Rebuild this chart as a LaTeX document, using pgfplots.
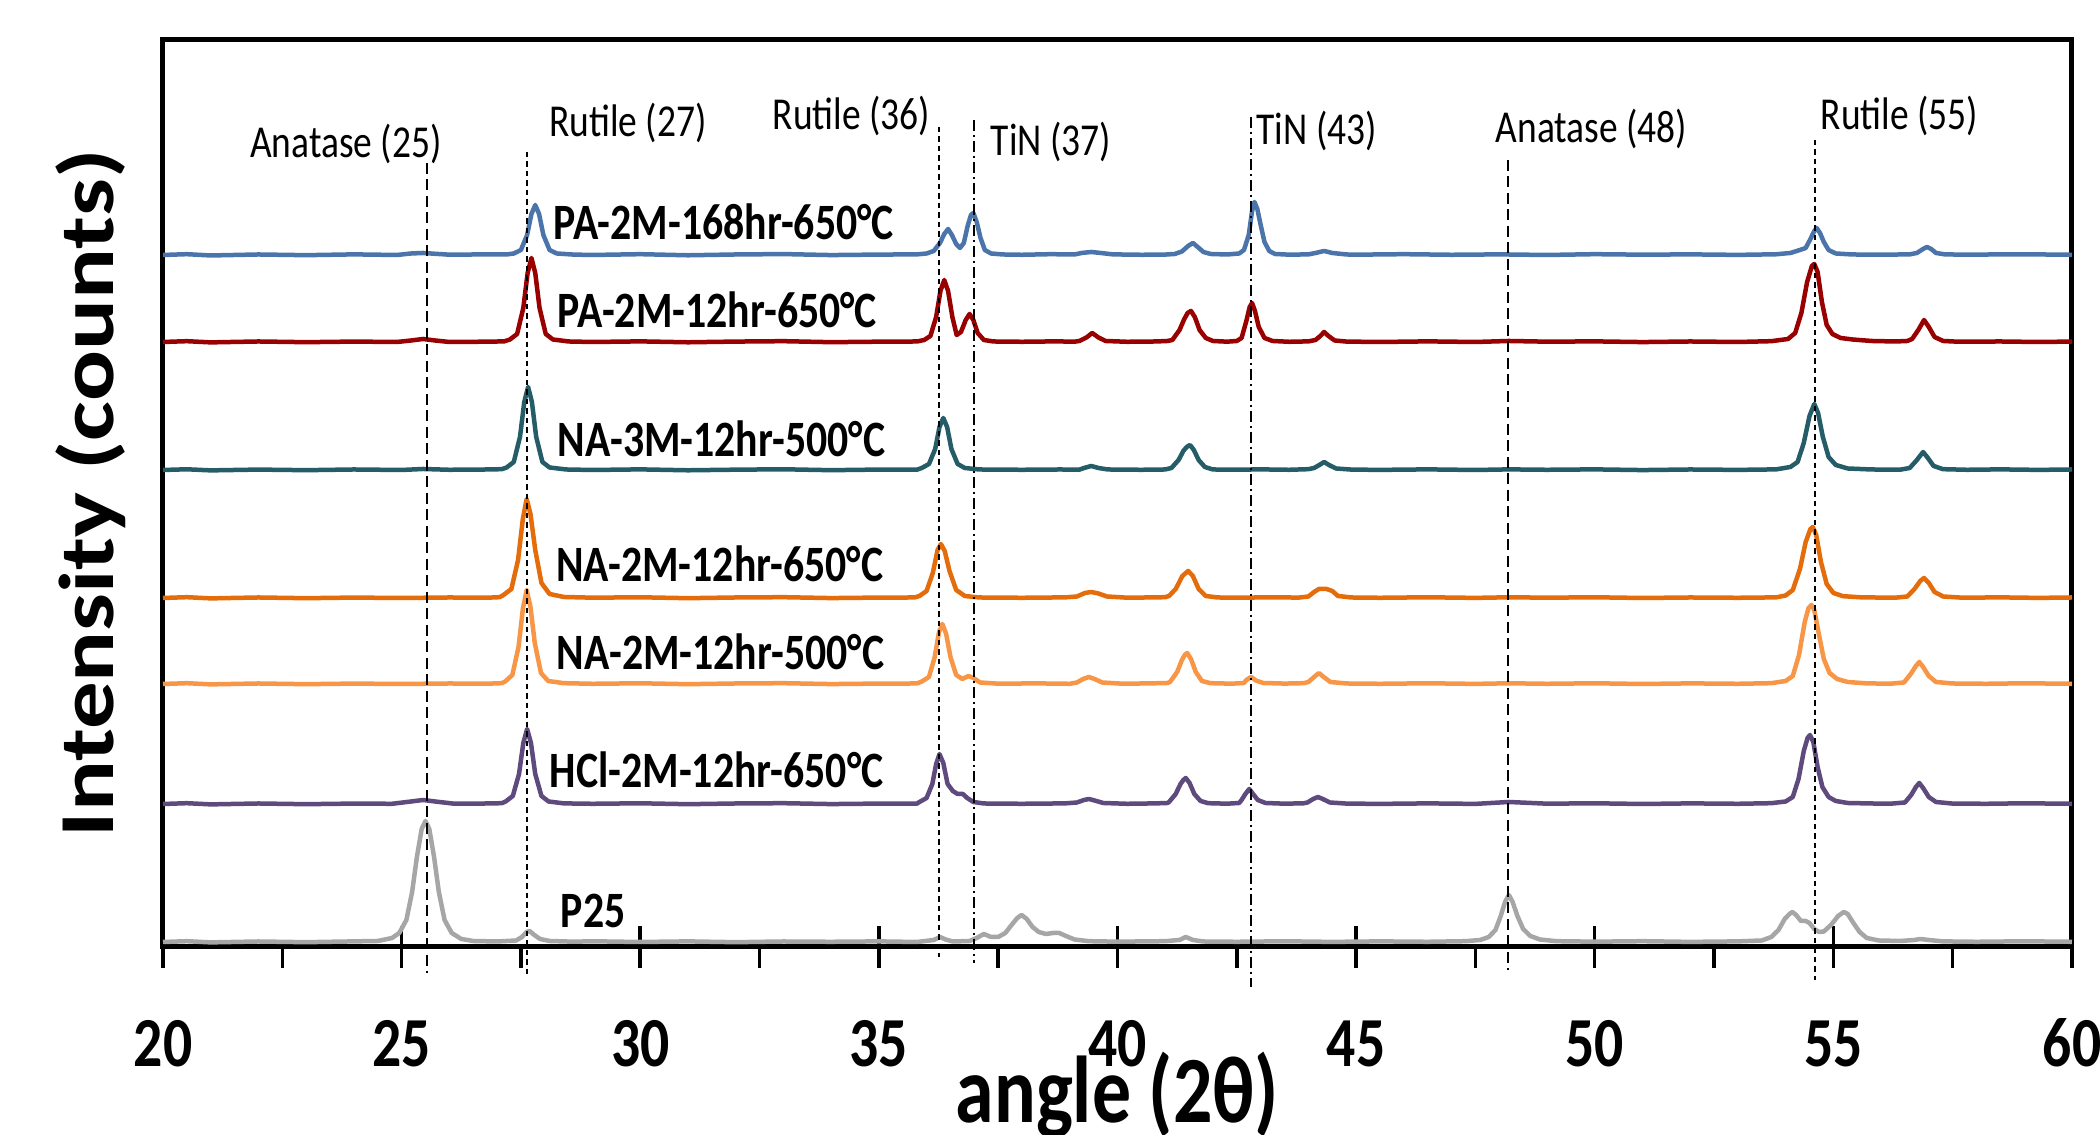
\documentclass[border=0pt]{standalone}
\usepackage{fontspec}
\setmainfont{Carlito}[FakeStretch=0.82]
\newfontfamily\plainfont{Carlito}
\usepackage{graphicx}
\usepackage{pgfplots}
\pgfplotsset{compat=1.18}

\definecolor{cBlue}{HTML}{4A74AA}
\definecolor{cRed}{HTML}{990000}
\definecolor{cTeal}{HTML}{245C68}
\definecolor{cOrange}{HTML}{E46C0A}
\definecolor{cLOrange}{HTML}{F79646}
\definecolor{cPurple}{HTML}{5E4A7C}
\definecolor{cGray}{HTML}{A6A6A6}

\newcommand{\ticklab}{\fontsize{20}{22}\selectfont\bfseries}
\newcommand{\samplab}{\fontsize{14.5}{16}\selectfont\bfseries}
\newcommand{\peaklab}{\fontsize{13}{15}\selectfont}

\begin{document}
\begin{tikzpicture}
\useasboundingbox (0,0) rectangle (210mm,113.5mm);
\begin{axis}[
    scale only axis,
    width=190.9mm, height=90.7mm,
    at={(16.3mm,18.8mm)}, anchor=south west,
    xmin=20, xmax=60, ymin=0, ymax=907,
    clip=false,
    xtick={20,25,...,60},
    minor x tick num=1,
    xtick pos=bottom,
    ytick=\empty,
    tick align=outside,
    major tick length=2.1mm,
    minor tick length=2.1mm,
    extra x ticks={25,30,35,40,45,50,55},
    extra x tick labels={},
    extra x tick style={tick align=inside},
    every tick/.style={black, line width=0.35mm},
    axis line style={black, line width=0.5mm},
    /pgf/number format/assume math mode=true,
    xticklabel style={font=\ticklab, anchor=base, yshift=-9.9mm},
    xlabel={angle (2θ)},
    xlabel style={font=\fontsize{27}{30}\selectfont\bfseries, at={(axis description cs:0.5,-0.194)}, anchor=base},
    ylabel={\scalebox{1}[0.82]{\plainfont\fontsize{27}{30}\selectfont\bfseries Intensity (counts)}},
    ylabel style={at={(axis description cs:-0.038,0.5)}, anchor=center, rotate=0},
    every axis plot/.append style={line width=0.45mm, line join=round, no marks},
]

% PA-2M-168hr-650C
\addplot[cBlue] coordinates {
(20,692) (20.5,692.8) (21,691.5) (22,692.5) (23,691.8) (24,692.6) (24.9,692) (25.2,693.5) (25.45,694) (25.7,693.2) (26,692.3) (26.8,692.6) (27.2,692.5)
(27.35,693.5) (27.5,697) (27.63,712) (27.72,733) (27.8,742) (27.88,733) (27.97,712) (28.1,697) (28.25,693.5)
(28.6,692.4) (29,692) (30,692.8) (31,691.7) (32,692.5) (33,692.9) (34,691.9) (35,692.4) (35.8,692.6)
(36.0,693.5) (36.15,696) (36.28,704) (36.37,713) (36.45,718) (36.53,712) (36.62,703) (36.7,699) (36.78,704) (36.86,721) (36.93,732) (36.98,734) (37.05,725) (37.13,709) (37.22,697) (37.35,693.5)
(37.6,692.5) (38,692.2) (38.6,692.8) (39.1,692.5)
(39.25,694) (39.45,695) (39.65,694) (39.9,692.6) (40.5,692.2) (41.0,692.4)
(41.2,693) (41.35,695.5) (41.48,701) (41.58,704) (41.68,700) (41.8,695) (41.95,693) (42.3,692.5) (42.55,693.5)
(42.65,697) (42.75,712) (42.82,736) (42.87,745) (42.93,738) (43.0,722) (43.08,705) (43.18,696) (43.3,693) (43.6,692.3) (44.0,692.6)
(44.15,694) (44.33,696) (44.5,694) (44.8,692.5) (45,692.3) (46,692.8) (47,692.2) (48,692.6) (49,692) (50,692.8) (51,692.3) (52,692.6) (53,692.1) (53.8,692.7)
(54.1,694) (54.3,697) (54.42,699) (54.52,708) (54.6,716) (54.65,719) (54.72,714) (54.8,705) (54.9,697) (55.05,693.5) (55.4,692.5) (56,692.3) (56.6,692.6)
(56.75,694) (56.88,698) (56.96,700) (57.05,698) (57.15,694) (57.35,692.5) (58,692.4) (59,692.7) (60,692.2)
};

% PA-2M-12hr-650C
\addplot[cRed] coordinates {
(20,605) (20.5,605.8) (21,604.6) (22,605.5) (23,604.8) (24,605.4) (24.9,605) (25.2,606.5) (25.45,608) (25.7,606.5) (26,605) (26.8,605.3) (27.15,605.6)
(27.27,607.5) (27.42,613) (27.55,639) (27.64,674) (27.72,689) (27.8,674) (27.89,639) (28.02,613) (28.17,607.5)
(28.5,605.5) (29,605) (30,605.6) (31,604.7) (32,605.4) (33,605.8) (34,604.8) (35,605.3) (35.8,605.5)
(35.95,607) (36.08,611) (36.2,630) (36.29,656) (36.37,667) (36.45,656) (36.54,630) (36.63,612) (36.72,615) (36.82,627) (36.9,633) (36.98,627) (37.07,614) (37.2,607)
(37.4,605.5) (38,605.2) (38.7,605.6) (39.1,605.3)
(39.2,606) (39.35,609.5) (39.47,614) (39.6,609.5) (39.75,606) (40.2,605.2) (40.8,605.5) (41.05,606)
(41.15,607) (41.3,617) (41.4,628) (41.47,634) (41.54,636) (41.62,630) (41.72,617) (41.85,609) (42.0,606) (42.3,605.3) (42.5,606)
(42.6,609) (42.7,626) (42.77,640) (42.82,644) (42.88,636) (42.96,620) (43.08,609) (43.25,606) (43.6,605.2) (44.0,605.6)
(44.15,607) (44.25,611) (44.33,615) (44.42,611) (44.55,606.5) (44.8,605.4) (45.5,605) (46.5,605.6) (47.5,605) (48.2,606) (49,605.3) (50,605.6) (51,604.9) (52,605.5) (53,605) (53.7,605.8)
(54.05,608) (54.2,614) (54.33,634) (54.45,665) (54.55,681) (54.6,683) (54.67,675) (54.76,645) (54.86,622) (54.98,613) (55.15,609) (55.4,607.5) (55.8,606) (56.3,605.5) (56.55,606)
(56.65,608) (56.78,617) (56.9,627) (57.0,620) (57.12,610) (57.3,606) (57.6,605.3) (58.5,605.5) (59.3,605) (60,605.4)
};

% NA-3M-12hr-500C
\addplot[cTeal] coordinates {
(20,477) (20.5,477.7) (21,476.6) (22,477.4) (23,476.8) (24,477.5) (25,477) (25.45,478) (26,477.2) (26.8,477.5) (27.1,477.8)
(27.2,479.5) (27.35,485) (27.48,510) (27.57,545) (27.65,560) (27.73,545) (27.82,510) (27.95,485) (28.1,479.5)
(28.45,477.5) (29,477) (30,477.6) (31,476.7) (32,477.3) (33,477.7) (34,476.8) (35,477.4) (35.8,477.3)
(35.9,479) (36.05,483) (36.18,498) (36.27,520) (36.35,529) (36.43,520) (36.52,498) (36.65,483) (36.8,479) (37.1,477.5) (38,477.2) (38.8,477.5) (39.2,477.3)
(39.3,479) (39.45,481) (39.6,479) (39.8,477.5) (40.5,477.2) (41.0,477.5)
(41.13,479) (41.28,487) (41.38,496) (41.45,500) (41.52,502) (41.6,497) (41.7,487) (41.83,480) (42.0,477.5) (42.5,477.3) (43,477.6) (43.6,477.2) (44.0,477.8)
(44.12,479) (44.23,482) (44.33,485) (44.43,482) (44.58,478.5) (44.9,477.4) (45.5,477.1) (46.5,477.6) (47.5,477) (48.2,477.6) (49,477.2) (50,477.6) (51,476.9) (52,477.5) (53,477.1) (53.8,477.6)
(54.1,480) (54.25,485) (54.38,504) (54.5,531) (54.6,543) (54.68,534) (54.78,510) (54.9,490) (55.05,482) (55.3,478.5) (55.8,477.5) (56.4,477.3)
(56.6,479) (56.75,487) (56.88,495) (56.98,489) (57.1,481) (57.3,477.8) (57.8,477.2) (58.5,477.6) (59.3,477.1) (60,477.5)
};

% NA-2M-12hr-650C
\addplot[cOrange] coordinates {
(20,349) (20.5,349.8) (21,348.6) (22,349.5) (23,348.8) (24,349.4) (25,349) (26,349.5) (26.8,349.3) (27.05,349.8)
(27.12,351.5) (27.3,358) (27.44,387) (27.54,428) (27.62,448) (27.7,433) (27.8,397) (27.93,364) (28.1,353) (28.4,350)
(29,349.3) (30,349.7) (31,348.8) (32,349.5) (33,349.8) (34,348.9) (35,349.4) (35.75,349.5)
(35.85,351) (36.0,356) (36.13,374) (36.23,397) (36.3,403) (36.38,396) (36.48,376) (36.62,357) (36.8,351) (37.1,349.5) (38,349.2) (38.9,349.6)
(39.15,350.5) (39.32,354) (39.45,355) (39.6,353.5) (39.78,350.5) (40.2,349.3) (40.8,349.6) (41.0,349.8)
(41.08,351) (41.22,358) (41.36,371) (41.48,376) (41.58,371) (41.7,358) (41.85,351) (42.1,349.5) (42.6,349.3) (43.2,349.7) (43.8,349.4)
(44.0,350.5) (44.12,355) (44.22,358) (44.38,358) (44.5,356) (44.62,351) (44.9,349.5) (45.5,349.2) (46.5,349.7) (47.5,349.1) (48.2,349.7) (49,349.3) (50,349.7) (51,349) (52,349.5) (53,349.2) (53.8,349.6)
(54.0,351.5) (54.15,357) (54.3,378) (54.42,405) (54.52,418) (54.57,420) (54.64,412) (54.74,385) (54.86,363) (55.0,354) (55.2,350.8) (55.6,349.6) (56.3,349.3)
(56.55,350.5) (56.7,358) (56.82,366) (56.9,369) (57.0,364) (57.12,355) (57.3,350.5) (57.7,349.3) (58.5,349.6) (59.3,349.1) (60,349.5)
};

% NA-2M-12hr-500C
\addplot[cLOrange] coordinates {
(20,263) (20.5,263.8) (21,262.6) (22,263.5) (23,262.8) (24,263.4) (25,263) (26,263.5) (26.8,263.3) (27.1,263.8)
(27.17,265.5) (27.32,272) (27.45,300) (27.54,338) (27.62,357) (27.7,340) (27.79,304) (27.92,274) (28.07,266) (28.4,263.8)
(29,263.2) (30,263.7) (31,262.8) (32,263.5) (33,263.8) (34,262.9) (35,263.4) (35.8,263.5)
(35.9,265.5) (36.05,270) (36.17,290) (36.26,315) (36.33,323) (36.41,313) (36.5,290) (36.62,272) (36.75,268) (36.88,271) (36.98,269) (37.12,264.5) (37.5,263.3) (38.3,263.6) (39.0,263.2)
(39.15,264.5) (39.28,268) (39.4,270) (39.52,268) (39.68,264.5) (40.1,263.3) (40.7,263.6) (41.05,264)
(41.1,265) (41.25,275) (41.35,287) (41.41,292) (41.46,294) (41.54,288) (41.64,275) (41.77,266) (41.95,263.8) (42.4,263.3) (42.65,264)
(42.7,267) (42.8,270) (42.9,266.5) (43.05,264) (43.5,263.4) (43.9,263.8)
(44.0,265) (44.12,270) (44.22,274) (44.32,270) (44.46,265) (44.8,263.5) (45.5,263.2) (46.5,263.7) (47.5,263.1) (48.2,263.7) (49,263.2) (50,263.7) (51,263) (52,263.6) (53,263.2) (53.7,263.8)
(54.0,266) (54.15,271) (54.28,292) (54.4,325) (54.48,339) (54.54,342) (54.6,337) (54.7,312) (54.8,288) (54.92,274) (55.08,268) (55.3,265) (55.7,263.6) (56.2,263.3)
(56.48,264.5) (56.62,273) (56.73,281) (56.8,285) (56.88,280) (57.0,271) (57.15,265) (57.5,263.5) (58.2,263.2) (59,263.7) (60,263.2)
};

% HCl-2M-12hr-650C
\addplot[cPurple] coordinates {
(20,143) (20.5,143.8) (21,142.6) (22,143.5) (23,142.8) (24,143.4) (24.8,143.2) (25.2,145.5) (25.45,147) (25.7,145.5) (26.1,143.3) (26.8,143.5) (27.1,143.8)
(27.18,145.5) (27.33,151) (27.46,173) (27.55,204) (27.63,218) (27.71,204) (27.8,173) (27.93,151) (28.08,145.5) (28.4,143.6)
(29,143.2) (30,143.7) (31,142.8) (32,143.5) (33,143.8) (34,142.9) (35,143.4) (35.8,143.4)
(35.85,145) (36.0,149) (36.12,163) (36.2,183) (36.27,193) (36.35,184) (36.44,163) (36.55,156) (36.65,153) (36.76,153) (36.85,149) (36.98,145) (37.2,143.5) (38,143.2) (38.9,143.6)
(39.15,144.5) (39.3,147) (39.4,148) (39.52,146.5) (39.7,144) (40.2,143.2) (40.8,143.6) (41.05,144)
(41.08,145) (41.22,153) (41.32,163) (41.38,167) (41.43,169) (41.51,164) (41.61,153) (41.74,146) (41.9,143.8) (42.3,143.3) (42.55,144)
(42.6,147) (42.68,153) (42.76,158) (42.84,153) (42.94,147) (43.1,144) (43.5,143.3) (43.9,143.7)
(43.98,144.5) (44.1,148) (44.2,150) (44.3,148) (44.45,144.5) (44.8,143.4) (45.5,143.1) (46.5,143.6) (47.5,143.1) (48.2,145) (49,143.3) (50,143.7) (51,143) (52,143.6) (53,143.2) (53.7,143.8)
(54.0,145.5) (54.15,150) (54.27,168) (54.38,196) (54.46,209) (54.51,212) (54.58,205) (54.67,180) (54.77,160) (54.9,150) (55.05,146) (55.3,144) (55.8,143.5) (56.2,143.3)
(56.5,144.5) (56.63,152) (56.73,160) (56.8,164) (56.88,159) (57.0,150) (57.15,145) (57.5,143.4) (58.2,143.2) (59,143.7) (60,143.2)
};

% P25
\addplot[cGray] coordinates {
(20,5) (20.5,5.8) (21,4.6) (22,5.5) (23,4.8) (24,5.6) (24.5,6) (24.8,9)
(24.95,14) (25.1,27) (25.22,55) (25.32,90) (25.42,118) (25.5,126) (25.58,118) (25.68,90) (25.78,55) (25.9,27) (26.05,14) (26.25,8) (26.5,6) (27,5.5) (27.4,6.5)
(27.52,10) (27.62,15) (27.68,16) (27.78,12) (27.9,8) (28.1,6) (28.6,5.3) (29,5.7) (30,5) (31,5.6) (32,4.8) (33,5.5) (34,5.2) (35,5.6) (35.8,5)
(36.15,7) (36.28,10) (36.4,7.5) (36.55,5.5) (36.9,6) (37.05,9) (37.2,13) (37.35,10) (37.5,10) (37.65,14)
(37.78,22) (37.9,29) (37.99,32) (38.1,28) (38.22,20) (38.35,15) (38.5,13) (38.65,14) (38.78,14) (38.92,11) (39.1,7.5) (39.4,5.8) (40,5.3) (41,5.8)
(41.3,7) (41.43,10) (41.58,7) (41.8,5.5) (42.5,5.2) (43.5,5.7) (44.5,5.1) (45.5,5.6) (46.5,5.2) (47.3,5.8) (47.6,7)
(47.78,10) (47.92,17) (48.03,31) (48.12,45) (48.2,52) (48.28,45) (48.38,31) (48.5,18) (48.65,11) (48.85,7.5) (49.2,5.8) (50,5.3) (51,5.8) (52,5.1) (53,5.6) (53.5,6.5)
(53.7,10) (53.85,17) (53.98,28) (54.08,33) (54.14,35) (54.22,32) (54.32,26) (54.42,26) (54.5,24) (54.6,18) (54.7,15) (54.8,15.5) (54.95,22) (55.1,31) (55.22,35) (55.3,33) (55.42,24) (55.55,15) (55.7,9) (55.95,6.5)
(56.4,6) (56.7,7) (56.82,8) (57,7) (57.3,5.6) (58,5.2) (59,5.7) (60,5.2)
};

% reference lines
\draw[black, line width=0.2mm, dash pattern=on 1.1mm off 0.55mm] (axis cs:25.53,784) -- (axis cs:25.53,-26);
\draw[black, line width=0.2mm, dash pattern=on 0.55mm off 0.4mm] (axis cs:27.63,795) -- (axis cs:27.63,-30);
\draw[black, line width=0.2mm, dash pattern=on 0.55mm off 0.4mm] (axis cs:36.27,820) -- (axis cs:36.27,-10);
\draw[black, line width=0.2mm, dash pattern=on 1.1mm off 0.4mm on 0.2mm off 0.4mm] (axis cs:36.99,827) -- (axis cs:36.99,-16);
\draw[black, line width=0.2mm, dash pattern=on 1.1mm off 0.4mm on 0.2mm off 0.4mm] (axis cs:42.8,830) -- (axis cs:42.8,-40);
\draw[black, line width=0.2mm, dash pattern=on 1.1mm off 0.55mm] (axis cs:48.19,787) -- (axis cs:48.19,-23);
\draw[black, line width=0.2mm, dash pattern=on 0.55mm off 0.4mm] (axis cs:54.61,807) -- (axis cs:54.61,-33);

% peak annotations
\node[anchor=base west, inner sep=0pt, font=\peaklab] at (axis cs:21.81,789) {Anatase (25)};
\node[anchor=base west, inner sep=0pt, font=\peaklab] at (axis cs:28.08,810) {Rutile (27)};
\node[anchor=base west, inner sep=0pt, font=\peaklab] at (axis cs:32.76,817) {Rutile (36)};
\node[anchor=base west, inner sep=0pt, font=\peaklab] at (axis cs:37.33,791) {TiN (37)};
\node[anchor=base west, inner sep=0pt, font=\peaklab] at (axis cs:42.9,802) {TiN (43)};
\node[anchor=base west, inner sep=0pt, font=\peaklab] at (axis cs:47.91,804) {Anatase (48)};
\node[anchor=base west, inner sep=0pt, font=\peaklab] at (axis cs:54.72,817) {Rutile (55)};

% sample labels
\node[anchor=base west, inner sep=0pt, font=\samplab] at (axis cs:28.17,707) {PA-2M-168hr-650°C};
\node[anchor=base west, inner sep=0pt, font=\samplab] at (axis cs:28.26,619) {PA-2M-12hr-650°C};
\node[anchor=base west, inner sep=0pt, font=\samplab] at (axis cs:28.26,490) {NA-3M-12hr-500°C};
\node[anchor=base west, inner sep=0pt, font=\samplab] at (axis cs:28.22,365) {NA-2M-12hr-650°C};
\node[anchor=base west, inner sep=0pt, font=\samplab] at (axis cs:28.24,277) {NA-2M-12hr-500°C};
\node[anchor=base west, inner sep=0pt, font=\samplab] at (axis cs:28.09,159) {HCl-2M-12hr-650°C};
\node[anchor=base west, inner sep=0pt, font=\samplab] at (axis cs:28.32,19) {P25};
\end{axis}
\end{tikzpicture}
\end{document}
